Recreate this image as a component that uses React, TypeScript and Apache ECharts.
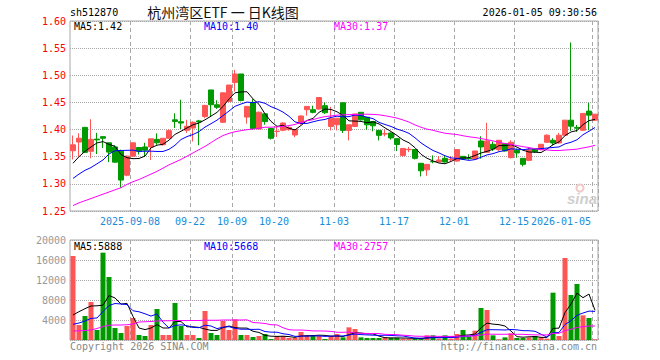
import React, { useEffect, useRef } from "react";
import * as echarts from "echarts";

// ---- data ----
const dates = [
  "2025-08-25", "2025-08-26", "2025-08-27", "2025-08-28", "2025-08-29",
  "2025-09-01", "2025-09-02", "2025-09-03", "2025-09-04", "2025-09-05",
  "2025-09-08", "2025-09-09", "2025-09-10", "2025-09-11", "2025-09-12",
  "2025-09-15", "2025-09-16", "2025-09-17", "2025-09-18", "2025-09-19",
  "2025-09-22", "2025-09-23", "2025-09-24", "2025-09-25", "2025-09-26",
  "2025-09-29", "2025-09-30", "2025-10-09", "2025-10-10",
  "2025-10-13", "2025-10-14", "2025-10-15", "2025-10-16", "2025-10-17",
  "2025-10-20", "2025-10-21", "2025-10-22", "2025-10-23", "2025-10-24",
  "2025-10-27", "2025-10-28", "2025-10-29", "2025-10-30", "2025-10-31",
  "2025-11-03", "2025-11-04", "2025-11-05", "2025-11-06", "2025-11-07",
  "2025-11-10", "2025-11-11", "2025-11-12", "2025-11-13", "2025-11-14",
  "2025-11-17", "2025-11-18", "2025-11-19", "2025-11-20", "2025-11-21",
  "2025-11-24", "2025-11-25", "2025-11-26", "2025-11-27", "2025-11-28",
  "2025-12-01", "2025-12-02", "2025-12-03", "2025-12-04", "2025-12-05",
  "2025-12-08", "2025-12-09", "2025-12-10", "2025-12-11", "2025-12-12",
  "2025-12-15", "2025-12-16", "2025-12-17", "2025-12-18", "2025-12-19",
  "2025-12-22", "2025-12-23", "2025-12-24", "2025-12-25", "2025-12-26",
  "2025-12-29", "2025-12-30", "2025-12-31", "2026-01-05",
];

const opens = [
  1.361, 1.377, 1.404, 1.360, 1.3825, 1.387, 1.3756, 1.368, 1.360, 1.316,
  1.351, 1.367, 1.368, 1.368, 1.382, 1.372, 1.384, 1.418, 1.4145, 1.3987,
  1.403, 1.416, 1.424, 1.473, 1.4457, 1.4134, 1.452, 1.4866, 1.5024, 1.423,
  1.450, 1.401, 1.429, 1.402, 1.3965, 1.3987, 1.400, 1.390, 1.411, 1.4366,
  1.4366, 1.4378, 1.444, 1.4058, 1.4088, 1.4494, 1.3985, 1.4058, 1.4318, 1.4227,
  1.4149, 1.3985, 1.3918, 1.3936, 1.3833, 1.3524, 1.3630, 1.3633, 1.3379, 1.3258,
  1.3412, 1.3403, 1.347, 1.3445, 1.342, 1.3507, 1.3475, 1.3458, 1.379, 1.3581,
  1.3729, 1.363, 1.3741, 1.3482, 1.3618, 1.347, 1.3433, 1.3643, 1.363, 1.3766,
  1.3803, 1.3754, 1.3896, 1.4173, 1.404, 1.3988, 1.434, 1.4173,
];
const closes = [
  1.372, 1.384, 1.358, 1.382, 1.381, 1.384, 1.3585, 1.340, 1.307, 1.351,
  1.3756, 1.360, 1.362, 1.383, 1.3756, 1.384, 1.398, 1.415, 1.412, 1.406,
  1.4134, 1.414, 1.4445, 1.4457, 1.441, 1.4677, 1.482, 1.5024, 1.4536, 1.4427,
  1.402, 1.432, 1.4146, 1.384, 1.397, 1.412, 1.404, 1.400, 1.425, 1.4427,
  1.4317, 1.459, 1.431, 1.421, 1.421, 1.3985, 1.4088, 1.4288, 1.4179, 1.4088,
  1.407, 1.3894, 1.3924, 1.3846, 1.3724, 1.3652, 1.3636, 1.347, 1.324, 1.336,
  1.3406, 1.3440, 1.3403, 1.3452, 1.3633, 1.3457, 1.3465, 1.3606, 1.368, 1.379,
  1.3643, 1.3803, 1.3606, 1.3766, 1.3569, 1.3359, 1.363, 1.3593, 1.3729, 1.3896,
  1.3754, 1.3896, 1.4173, 1.4062, 1.4025, 1.4297, 1.4266, 1.4284,
];
const lows = [
  1.345, 1.350, 1.357, 1.347, 1.355, 1.366, 1.340, 1.339, 1.293, 1.314,
  1.350, 1.354, 1.350, 1.344, 1.372, 1.3707, 1.383, 1.403, 1.401, 1.394,
  1.378, 1.371, 1.421, 1.423, 1.438, 1.412, 1.450, 1.470, 1.452, 1.411,
  1.400, 1.400, 1.409, 1.3817, 1.3865, 1.3969, 1.398, 1.386, 1.409, 1.4256,
  1.430, 1.4366, 1.429, 1.3985, 1.3985, 1.3936, 1.380, 1.4046, 1.4167, 1.3997,
  1.3967, 1.380, 1.3876, 1.3815, 1.3603, 1.350, 1.3585, 1.345, 1.3136, 1.3148,
  1.3379, 1.340, 1.339, 1.342, 1.3409, 1.3445, 1.3445, 1.3445, 1.3464, 1.3581,
  1.3606, 1.3606, 1.3594, 1.347, 1.3482, 1.3322, 1.342, 1.3569, 1.3618, 1.3754,
  1.371, 1.3741, 1.3877, 1.3976, 1.396, 1.3976, 1.3988, 1.4161,
];
const highs = [
  1.389, 1.393, 1.405, 1.419, 1.394, 1.387, 1.376, 1.371, 1.363, 1.352,
  1.3756, 1.368, 1.3756, 1.383, 1.393, 1.384, 1.401, 1.430, 1.455, 1.418,
  1.415, 1.418, 1.4455, 1.473, 1.454, 1.4677, 1.482, 1.510, 1.5024, 1.4427,
  1.456, 1.433, 1.429, 1.402, 1.406, 1.4134, 1.406, 1.401, 1.426, 1.4427,
  1.444, 1.459, 1.450, 1.442, 1.421, 1.4494, 1.4088, 1.4288, 1.4318, 1.4227,
  1.4149, 1.3985, 1.3997, 1.3949, 1.3833, 1.3652, 1.368, 1.3633, 1.3379, 1.336,
  1.3524, 1.3512, 1.351, 1.351, 1.3633, 1.3507, 1.3544, 1.3606, 1.3877, 1.4124,
  1.3778, 1.3803, 1.3754, 1.3803, 1.3649, 1.347, 1.3667, 1.3655, 1.3729, 1.3914,
  1.384, 1.3939, 1.4173, 1.5605, 1.4086, 1.4297, 1.4494, 1.4284,
];
const volumes = [
  16800, 3000, 4800, 7600, 2000, 17467, 12600, 2400, 1400, 2800,
  4400, 1000, 800, 3000, 6200, 1000, 1000, 7400, 2800, 1000,
  1000, 400, 5800, 1400, 1000, 3800, 2000, 4133, 1000, 1000,
  600, 800, 1200, 200, 800, 800, 400, 400, 1600, 1000,
  1000, 800, 200, 800, 1200, 533, 2533, 2200, 533, 400,
  400, 400, 533, 400, 400, 267, 267, 267, 267, 933,
  933, 267, 933, 267, 1200, 2000, 667, 1867, 6400, 6000,
  933, 133, 533, 1333, 400, 400, 533, 800, 533, 267,
  9467, 800, 16400, 9000, 11200, 4933, 4400, 133,
];

// moving-average values before enough visible history exists
const priceMa5Head = [1.338, 1.35, 1.36, 1.368];
const priceMa10Head = [1.31, 1.318, 1.325, 1.33, 1.337, 1.344, 1.355, 1.361, 1.3615];
const priceMa30Head = [
  1.26, 1.265, 1.269, 1.273, 1.277, 1.281, 1.285, 1.289, 1.293, 1.299,
  1.304, 1.308, 1.313, 1.318, 1.323, 1.329, 1.335, 1.34, 1.345, 1.351,
  1.357, 1.363, 1.369, 1.376, 1.383, 1.389, 1.393, 1.396, 1.398,
];
const volMa5Head = [5000, 5667, 6267, 6800];
const volMa10Head = [3133, 3400, 3800, 4333, 4400, 5700, 6900, 7300, 7200];
const volMa30Head = [
  1800, 1850, 1900, 2000, 2300, 2700, 2950, 3000, 3000, 3050,
  3200, 3600, 3650, 3700, 3800, 3850, 3850, 3900, 3900, 3900,
  3900, 3900, 3950, 3950, 3950, 4000, 4000, 4000, 4000,
];

const labelDates = [
  "2025-09-08", "2025-09-22", "2025-10-09", "2025-10-20", "2025-11-03",
  "2025-11-17", "2025-12-01", "2025-12-15", "2026-01-05",
];
const priceTicks = { min: 1.25, max: 1.6, interval: 0.05 };
const volTicks = { min: 0, max: 20000, interval: 4000 };

const priceLegend = ["MA5:1.42", "MA10:1.40", "MA30:1.37"];
const volLegend = ["MA5:5888", "MA10:5668", "MA30:2757"];
const headerCode = "sh512870";
const headerTitle = "杭州湾区ETF 一 日K线图";
const headerTime = "2026-01-05 09:30:56";
const footerLeft = "Copyright 2026 SINA.COM";
const footerRight = "http://finance.sina.com.cn";

// ---- helpers ----
function movingAvg(values: number[], n: number, head: number[]): number[] {
  return values.map((_, i) => {
    if (i < n - 1) return head[i];
    let s = 0;
    for (let j = i - n + 1; j <= i; j++) s += values[j];
    return s / n;
  });
}

const RED = "#ff5555";
const GREEN = "#009a00";
const MONO = '"DejaVu Sans Mono", monospace';
const GRIDC = "#a8a8a8";

export default function App() {
  const ref = useRef<HTMLDivElement>(null);

  useEffect(() => {
    if (!ref.current) return;
    const chart = echarts.init(ref.current, undefined, { renderer: "svg" });

    const labelIdx = labelDates.map((d) => dates.indexOf(d));
    const lastIdx = dates.length - 1;
    const showIdx = (i: number) => labelIdx.indexOf(i) >= 0;

    const ma5 = movingAvg(closes, 5, priceMa5Head);
    const ma10 = movingAvg(closes, 10, priceMa10Head);
    const ma30 = movingAvg(closes, 30, priceMa30Head);
    const vma5 = movingAvg(volumes, 5, volMa5Head);
    const vma10 = movingAvg(volumes, 10, volMa10Head);
    const vma30 = movingAvg(volumes, 30, volMa30Head);

    const candles = dates.map((_, i) => [opens[i], closes[i], lows[i], highs[i]]);
    const volBars = volumes.map((v, i) => ({
      value: v,
      itemStyle: { color: closes[i] >= opens[i] ? RED : GREEN },
    }));

    const splitLineX = {
      show: true,
      interval: (i: number) => showIdx(i),
      lineStyle: { color: GRIDC, type: [4, 3] as any, width: 1 },
    };
    const lineSeries = (name: string, data: number[], color: string, ax: number) => ({
      name,
      type: "line",
      xAxisIndex: ax,
      yAxisIndex: ax,
      data,
      symbol: "none",
      showSymbol: false,
      lineStyle: { width: 1, color },
      itemStyle: { color },
      z: 3,
      silent: true,
    });

    const txt = (
      text: string,
      x: number,
      y: number,
      fill: string,
      align: string = "left",
      font: string = `10px ${MONO}`
    ) => ({
      type: "text",
      x,
      y,
      silent: true,
      z: 100,
      style: { text, fill, font, textAlign: align, textVerticalAlign: "middle" },
    });

    const option: any = {
      animation: false,
      backgroundColor: "#ffffff",
      grid: [
        { left: 70, top: 21, width: 528, height: 190, show: true, borderColor: GRIDC, borderWidth: 1, backgroundColor: "transparent" },
        { left: 70, top: 240, width: 528, height: 100, show: true, borderColor: GRIDC, borderWidth: 1, backgroundColor: "transparent" },
      ],
      xAxis: [
        {
          type: "category",
          gridIndex: 0,
          data: dates,
          boundaryGap: true,
          axisLine: { show: false },
          axisTick: { show: false },
          axisLabel: {
            interval: (i: number) => showIdx(i),
            margin: 5,
            color: "#1a8cd8",
            fontFamily: MONO,
            fontSize: 10,
            formatter: (v: string, i: number) => {
              const k = dates.indexOf(v);
              if (k === lastIdx) return `{last|${v}}`;
              if (k === labelIdx[0]) return `{a|${v}}`;
              return `{a|${v.slice(5)}}`;
            },
            rich: {
              a: { color: "#1a8cd8", fontFamily: MONO, fontSize: 10, padding: [0, 6, 0, 0] },
              last: { color: "#1a8cd8", fontFamily: MONO, fontSize: 10, padding: [0, 68, 0, 0] },
            },
          },
          splitLine: splitLineX,
        },
        {
          type: "category",
          gridIndex: 1,
          data: dates,
          boundaryGap: true,
          axisLine: { show: false },
          axisTick: { show: false },
          axisLabel: { show: false },
          splitLine: splitLineX,
        },
      ],
      yAxis: [
        {
          type: "value",
          gridIndex: 0,
          min: priceTicks.min,
          max: priceTicks.max,
          interval: priceTicks.interval,
          axisLine: { show: false },
          axisTick: { show: false },
          axisLabel: {
            color: "#ff0000",
            fontFamily: MONO,
            fontSize: 10,
            margin: 4,
            formatter: (v: number) => v.toFixed(2),
          },
          splitLine: { show: true, lineStyle: { color: GRIDC, type: "dotted", width: 1 } },
        },
        {
          type: "value",
          gridIndex: 1,
          min: volTicks.min,
          max: volTicks.max,
          interval: volTicks.interval,
          axisLine: { show: false },
          axisTick: { show: false },
          axisLabel: {
            color: "#999999",
            fontFamily: MONO,
            fontSize: 10,
            margin: 4,
            formatter: (v: number) => (v === 0 ? "" : String(Math.round(v))),
          },
          splitLine: { show: true, lineStyle: { color: GRIDC, type: "dotted", width: 1 } },
        },
      ],
      series: [
        {
          name: "K",
          type: "candlestick",
          xAxisIndex: 0,
          yAxisIndex: 0,
          data: candles,
          barWidth: 5,
          itemStyle: {
            color: RED,
            color0: GREEN,
            borderColor: RED,
            borderColor0: GREEN,
            borderWidth: 1,
          },
          silent: true,
        },
        lineSeries("MA5", ma5, "#000000", 0),
        lineSeries("MA10", ma10, "#0000ff", 0),
        lineSeries("MA30", ma30, "#ff00ff", 0),
        {
          name: "VOL",
          type: "bar",
          xAxisIndex: 1,
          yAxisIndex: 1,
          data: volBars,
          barWidth: 5,
          silent: true,
        },
        lineSeries("VMA5", vma5, "#000000", 1),
        lineSeries("VMA10", vma10, "#0000ff", 1),
        lineSeries("VMA30", vma30, "#ff00ff", 1),
      ],
      graphic: [
        txt(headerCode, 70, 12.5, "#000000"),
        txt(headerTitle, 223, 12, "#111111", "center", '14px "Noto Sans CJK SC", sans-serif'),
        txt(headerTime, 597, 12.5, "#000000", "right"),
        txt(priceLegend[0], 74, 26, "#000000"),
        txt(priceLegend[1], 204, 26, "#0000ff"),
        txt(priceLegend[2], 334, 26, "#ff00ff"),
        txt(volLegend[0], 74, 246, "#000000"),
        txt(volLegend[1], 204, 246, "#0000ff"),
        txt(volLegend[2], 334, 246, "#ff00ff"),
        txt(footerLeft, 70, 346, "#888888"),
        txt(footerRight, 597, 346, "#888888", "right"),
        {
          type: "ring",
          silent: true,
          z: 90,
          shape: { cx: 580, cy: 188, r: 4.5, r0: 2.5 },
          style: { fill: "#f0c8c8" },
        },
        txt("sina", 597, 198, "#cfcfcf", "right", 'italic bold 15px "Liberation Sans", sans-serif'),
      ],
    };

    chart.setOption(option);
    return () => {
      chart.dispose();
    };
  }, []);

  return (
    <div
      ref={ref}
      style={{ position: "fixed", left: 0, top: 0, width: 660, height: 360, background: "#fff" }}
    />
  );
}
